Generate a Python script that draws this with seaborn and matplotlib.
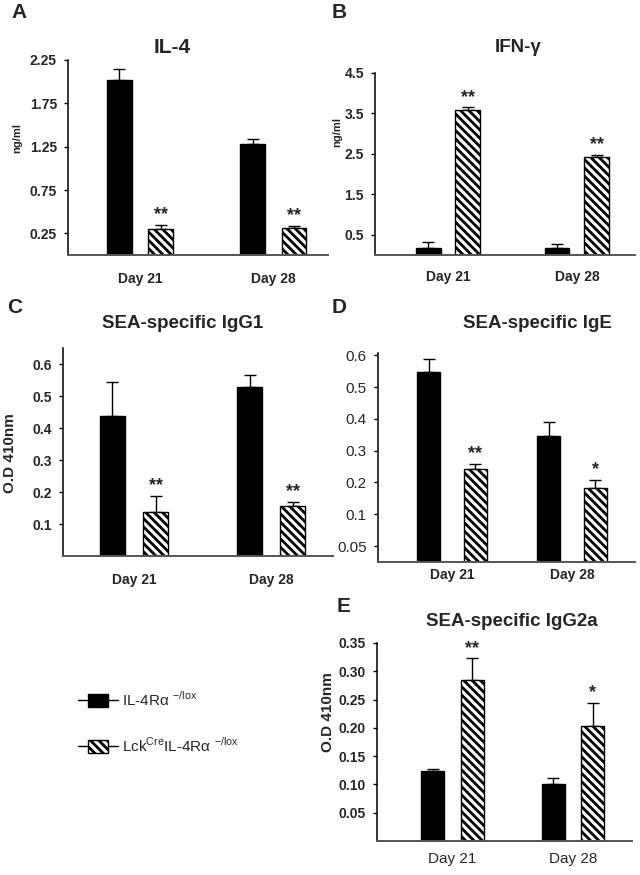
import matplotlib
matplotlib.use('Agg')
import matplotlib.pyplot as plt
import numpy as np
import pandas as pd
import seaborn as sns
from matplotlib.legend_handler import HandlerBase
from matplotlib.lines import Line2D
from matplotlib.patches import Rectangle, Patch


DAYS = ['Day 21', 'Day 28']
GROUPS = ['IL-4Rα -/lox', 'LckCre IL-4Rα -/lox']

# panel A, IL-4 (ng/ml)
il4_ctrl = [2.02, 1.28]
il4_ctrl_err = [0.13, 0.06]
il4_lck = [0.30, 0.315]
il4_lck_err = [0.05, 0.025]
il4_stars = ['**', '**']

# panel B, IFN-gamma (ng/ml)
ifng_ctrl = [0.17, 0.18]
ifng_ctrl_err = [0.15, 0.09]
ifng_lck = [3.58, 2.42]
ifng_lck_err = [0.07, 0.06]
ifng_stars = ['**', '**']

# panel C, SEA-specific IgG1 (OD 410nm)
igg1_ctrl = [0.438, 0.527]
igg1_ctrl_err = [0.107, 0.04]
igg1_lck = [0.139, 0.155]
igg1_lck_err = [0.05, 0.015]
igg1_stars = ['**', '**']

# panel D, SEA-specific IgE (OD 410nm)
ige_ctrl = [0.597, 0.397]
ige_ctrl_err = [0.04, 0.044]
ige_lck = [0.292, 0.233]
ige_lck_err = [0.017, 0.025]
ige_stars = ['**', '*']
ige_ticks = [0.05, 0.15, 0.25, 0.35, 0.45, 0.55, 0.65]
ige_ticklabels = ['0.05', '0.1', '0.2', '0.3', '0.4', '0.5', '0.6']

# panel E, SEA-specific IgG2a (OD 410nm)
igg2a_ctrl = [0.124, 0.100]
igg2a_ctrl_err = [0.003, 0.011]
igg2a_lck = [0.284, 0.204]
igg2a_lck_err = [0.039, 0.040]
igg2a_stars = ['**', '*']

W, H = 640, 875
HATCH = '\\\\\\\\'


def px_rect(left, top, right, bottom):
    return [left / W, 1 - bottom / H, (right - left) / W, (bottom - top) / H]


def fig_text(fig, x, y, s, **kw):
    fig.text(x / W, 1 - y / H, s, **kw)


def draw_panel(fig, box, ctrl, ctrl_err, lck, lck_err, stars, ylim, yticks, yticklabels,
               xlim, width, gap, tick_size=10, tick_weight='bold', day_size=10,
               day_weight='bold', day_pad=11):
    ax = fig.add_axes(px_rect(*box))
    df = pd.DataFrame({
        'day': DAYS * 2,
        'group': [GROUPS[0]] * 2 + [GROUPS[1]] * 2,
        'value': ctrl + lck,
    })
    sns.barplot(data=df, x='day', y='value', hue='group', hue_order=GROUPS,
                palette=['black', 'white'], edgecolor='black', linewidth=1,
                width=width, gap=gap, errorbar=None, legend=False, ax=ax)
    for bar in ax.containers[1]:
        bar.set_hatch(HATCH)

    for cont, err in zip(ax.containers, [ctrl_err, lck_err]):
        xs = [b.get_x() + b.get_width() / 2 for b in cont]
        ys = [b.get_height() for b in cont]
        ax.errorbar(xs, ys, yerr=[np.zeros(len(err)), err], fmt='none',
                    ecolor='black', elinewidth=1, capsize=4, capthick=1, zorder=0.5)

    for b, e, s in zip(ax.containers[1], lck_err, stars):
        ax.annotate(s, (b.get_x() + b.get_width() / 2, b.get_height() + e),
                    xytext=(0, 1), textcoords='offset points', ha='center',
                    va='bottom', fontsize=13, fontweight='bold')

    ax.set_xlim(*xlim)
    ax.set_ylim(*ylim)
    ax.set_yticks(yticks)
    ax.set_yticklabels(yticklabels, fontsize=tick_size, fontweight=tick_weight)
    ax.set_xticks([0, 1])
    ax.set_xticklabels(DAYS, fontsize=day_size, fontweight=day_weight)
    ax.set_xlabel('')
    ax.set_ylabel('')
    ax.tick_params(axis='x', length=0, pad=day_pad)
    ax.tick_params(axis='y', length=3, width=1, pad=5, color='black')
    sns.despine(ax=ax)
    ax.spines['left'].set_color('black')
    ax.spines['left'].set_linewidth(1.1)
    ax.spines['bottom'].set_color('#555555')
    ax.spines['bottom'].set_linewidth(1.4)
    ax.set_facecolor('none')
    return ax


class BoxOnLine(HandlerBase):
    def create_artists(self, legend, orig_handle, xdescent, ydescent, width,
                       height, fontsize, trans):
        line = Line2D([-xdescent, -xdescent + width], [height / 2 - ydescent] * 2,
                      color='black', lw=1, transform=trans)
        bw = width * 0.52
        rect = Rectangle((-xdescent + (width - bw) / 2, -ydescent), bw, height,
                         facecolor=orig_handle.get_facecolor(), edgecolor='black',
                         hatch=orig_handle.get_hatch(), lw=1, transform=trans)
        return [line, rect]


def main():
    sns.set_style('ticks')
    plt.rcParams['font.family'] = ['Liberation Sans', 'DejaVu Sans']
    plt.rcParams['hatch.linewidth'] = 2.0
    plt.rcParams['hatch.color'] = 'black'

    fig = plt.figure(figsize=(6.4, 8.75), dpi=100)

    draw_panel(fig, (68, 60, 328, 255), il4_ctrl, il4_ctrl_err, il4_lck, il4_lck_err,
               il4_stars, (0, 2.25), [0.25, 0.75, 1.25, 1.75, 2.25],
               ['0.25', '0.75', '1.25', '1.75', '2.25'], (-0.54, 1.41), 0.62, 0.41,
               day_pad=12)
    draw_panel(fig, (375, 73, 635, 255), ifng_ctrl, ifng_ctrl_err, ifng_lck, ifng_lck_err,
               ifng_stars, (0, 4.5), [0.5, 1.5, 2.5, 3.5, 4.5],
               ['0.5', '1.5', '2.5', '3.5', '4.5'], (-0.566, 1.45), 0.61, 0.38,
               day_pad=11)
    draw_panel(fig, (63, 348, 333, 556), igg1_ctrl, igg1_ctrl_err, igg1_lck, igg1_lck_err,
               igg1_stars, (0, 0.65), [0.1, 0.2, 0.3, 0.4, 0.5, 0.6],
               ['0.1', '0.2', '0.3', '0.4', '0.5', '0.6'], (-0.518, 1.45), 0.63, 0.42,
               day_pad=12)
    draw_panel(fig, (378, 353, 635, 562), ige_ctrl, ige_ctrl_err, ige_lck, ige_lck_err,
               ige_stars, (0, 0.657), ige_ticks, ige_ticklabels, (-0.617, 1.525),
               0.78, 0.51, tick_size=11, tick_weight='normal', day_pad=4)
    draw_panel(fig, (377, 643, 632, 841), igg2a_ctrl, igg2a_ctrl_err, igg2a_lck,
               igg2a_lck_err, igg2a_stars, (0, 0.35),
               [0.05, 0.10, 0.15, 0.20, 0.25, 0.30, 0.35],
               ['0.05', '0.10', '0.15', '0.20', '0.25', '0.30', '0.35'],
               (-0.626, 1.49), 0.66, 0.42, day_size=11, day_weight='normal', day_pad=8)

    # panel letters and titles
    for letter, x, y in [('A', 11, 18), ('B', 332, 18), ('C', 7, 313),
                         ('D', 332, 313), ('E', 337, 612)]:
        fig_text(fig, x, y, letter, fontsize=15, fontweight='bold', va='baseline')
    for title, x, y, size in [('IL-4', 172, 53, 15), ('IFN-γ', 518, 52, 13.5),
                              ('SEA-specific IgG1', 183, 328, 13.5),
                              ('SEA-specific IgE', 537, 328, 13.5),
                              ('SEA-specific IgG2a', 512, 626, 13.5)]:
        fig_text(fig, x, y, title, fontsize=size, fontweight='bold', ha='center',
                 va='baseline')

    # y labels
    fig_text(fig, 17, 138, 'ng/ml', fontsize=8, fontweight='bold', rotation=90,
             ha='center', va='center')
    fig_text(fig, 337, 132, 'ng/ml', fontsize=8, fontweight='bold', rotation=90,
             ha='center', va='center')
    fig_text(fig, 10, 453, 'O.D 410nm', fontsize=11, fontweight='bold', rotation=90,
             ha='center', va='center')
    fig_text(fig, 328, 712, 'O.D 410nm', fontsize=11, fontweight='bold', rotation=90,
             ha='center', va='center')

    handles = [Patch(facecolor='black', edgecolor='black'),
               Patch(facecolor='white', edgecolor='black', hatch=HATCH)]
    labels = [r'IL-4Rα $^{\mathregular{-/lox}}$',
              r'Lck$^{\mathregular{Cre}}$IL-4Rα $^{\mathregular{-/lox}}$']
    fig.legend(handles, labels, loc='upper left', bbox_to_anchor=(78 / W, 1 - 690 / H),
               frameon=False, fontsize=11, handlelength=2.6, handleheight=1.0,
               handletextpad=0.3, labelspacing=1.8, borderpad=0, borderaxespad=0,
               handler_map={Patch: BoxOnLine()})

    fig.savefig('out.png', dpi=100)
    plt.close(fig)


if __name__ == '__main__':
    main()
